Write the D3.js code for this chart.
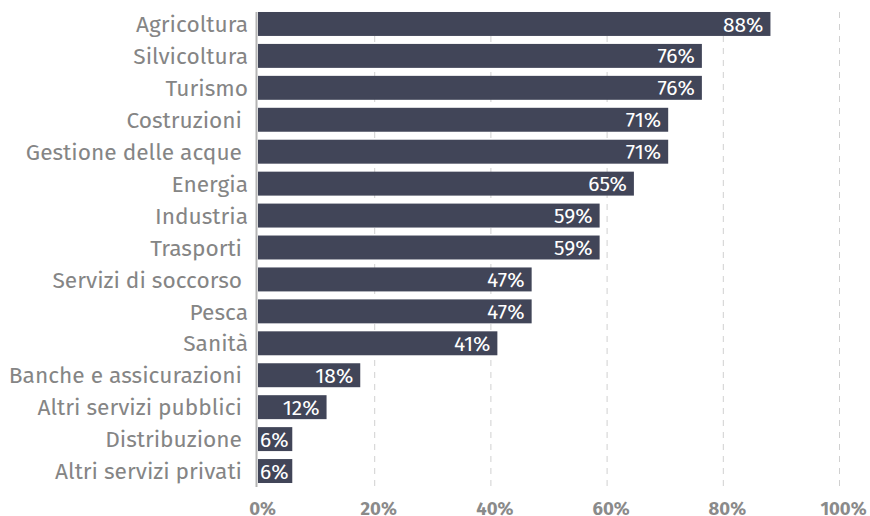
<!DOCTYPE html>
<html>
<head>
<meta charset="utf-8">
<script src="https://cdn.jsdelivr.net/npm/d3@7"></script>
<style>
  body { margin: 0; background: #fff; }
  svg { display: block; font-family: "Fira Sans", "Noto Sans", sans-serif; }
</style>
</head>
<body>
<div id="chart"><svg></svg></div>
<script>
// categories and values (share of respondents, %)
var settori = ["Agricoltura", "Silvicoltura", "Turismo", "Costruzioni ", "Gestione delle acque ",
    "Energia", "Industria", "Trasporti ", "Servizi di soccorso ", "Pesca", "Sanità",
    "Banche e assicurazioni ", "Altri servizi pubblici ", "Distribuzione ", "Altri servizi privati "]
var valori = [88.2, 76.4, 76.4, 70.6, 70.6, 64.7, 58.8, 58.8, 47.1, 47.1, 41.2, 17.6, 11.8, 5.9, 5.9]
var ticks = [0, 20, 40, 60, 80, 100]

var data = settori.map((s, i) => ({settore: s, valore: valori[i]}))

var width = 870, height = 516

var svg = d3.select("#chart svg")
    .attr("width", width)
    .attr("height", height)

var x = d3.scaleLinear()
    .domain([0, 100])
    .range([258, 839])

var y = d3.scaleBand()
    .domain(settori)
    .range([8, 487])
    .paddingInner(0.25)
    .paddingOuter(0.125)

// dashed gridlines
svg.append("g")
    .selectAll("line")
    .data(ticks.slice(1))
    .enter().append("line")
    .attr("x1", d => x(d) + 0.5).attr("x2", d => x(d) + 0.5)
    .attr("y1", 12).attr("y2", 487)
    .attr("stroke", "#d0d0d0")
    .attr("stroke-width", 1)
    .attr("stroke-dasharray", "6,6")

// x axis tick labels
var xAxis = svg.append("g")
    .attr("transform", "translate(0,487)")
    .call(d3.axisBottom(x).tickValues(ticks).tickFormat(d => d + "%").tickSize(0))
xAxis.select(".domain").remove()
xAxis.selectAll("text")
    .attr("dx", 4)
    .attr("y", 27.5)
    .attr("dy", null)
    .style("font-family", "'Fira Sans', 'Noto Sans', sans-serif")
    .style("font-size", "18.5px")
    .style("font-weight", "bold")
    .style("fill", "#8a8a8a")

// bars
svg.append("g")
    .selectAll("rect")
    .data(data)
    .enter().append("rect")
    .attr("x", x(0))
    .attr("y", d => y(d.settore))
    .attr("width", d => x(d.valore) - x(0))
    .attr("height", y.bandwidth())
    .attr("fill", "#414558")

// value labels inside bars
svg.append("g")
    .selectAll("text")
    .data(data)
    .enter().append("text")
    .attr("x", d => d.valore < 10 ? x(0) + 2 : x(d.valore) - 7)
    .attr("y", d => y(d.settore) + y.bandwidth() / 2)
    .attr("dy", "0.36em")
    .attr("text-anchor", d => d.valore < 10 ? "start" : "end")
    .style("font-size", "21px")
    .style("fill", "#fff")
    .text(d => Math.round(d.valore) + "%")

// category labels
svg.append("g")
    .selectAll("text")
    .data(data)
    .enter().append("text")
    .attr("x", 248)
    .attr("y", d => y(d.settore) + y.bandwidth() / 2)
    .attr("dy", "0.36em")
    .attr("text-anchor", "end")
    .style("white-space", "pre")
    .style("font-size", "22.7px")
    .style("fill", "#858585")
    .text(d => d.settore)

// axis line
svg.append("line")
    .attr("x1", 256.5).attr("x2", 256.5)
    .attr("y1", 12).attr("y2", 487)
    .attr("stroke", "#b4b4b4")
    .attr("stroke-width", 2)
</script>
</body>
</html>
